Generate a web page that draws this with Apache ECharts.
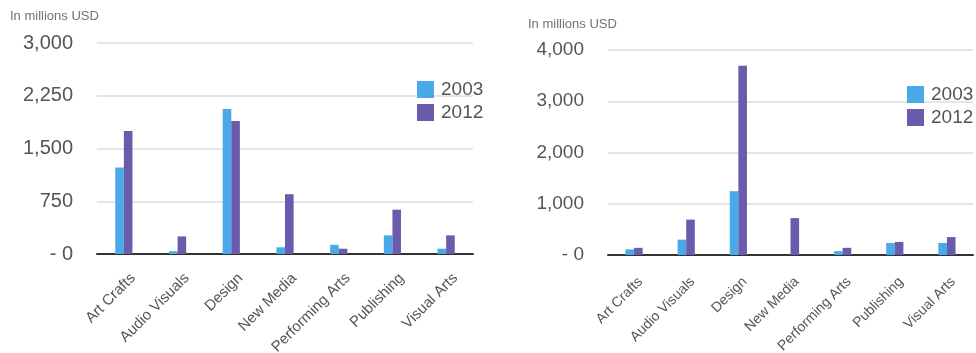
<!DOCTYPE html>
<html><head><meta charset="utf-8">
<script src="https://cdn.jsdelivr.net/npm/echarts@6/dist/echarts.min.js"></script>
<style>html,body{margin:0;padding:0;background:#fff}#c{width:976px;height:353px}</style>
</head><body><div id="c"></div>
<script>
var categories = ['Art Crafts','Audio Visuals','Design','New Media','Performing Arts','Publishing','Visual Arts'];
var seriesNames = ['2003','2012'];
var left2003 = [1230, 40, 2060, 95, 130, 265, 75];
var left2012 = [1750, 250, 1890, 850, 75, 630, 265];
var right2003 = [110, 300, 1245, 0, 75, 235, 235];
var right2012 = [140, 690, 3695, 720, 140, 255, 350];
var leftTicks = {min: 0, max: 3000, interval: 750};
var rightTicks = {min: 0, max: 4000, interval: 1000};
var unitLabel = 'In millions USD';

var FONT = '"Liberation Sans", Arial, sans-serif';
var BLUE = '#4aa9e8', PURPLE = '#6a5bad';
function fmt(v){ return v === 0 ? '- 0' : v.toLocaleString('en-US'); }
function xAx(i, fs, margin, shift){
  return {type:'category', gridIndex:i, data:categories,
    axisLine:{lineStyle:{color:'#333', width:2}}, axisTick:{show:false},
    axisLabel:{rotate:45, fontSize:fs, color:'#555', fontFamily:FONT, margin:margin, interval:0,
      padding:[0,-shift,0,0]}};
}
function yAx(i, t, fs){
  return {type:'value', gridIndex:i, min:t.min, max:t.max, interval:t.interval,
    axisLine:{show:false}, axisTick:{show:false},
    splitLine:{lineStyle:{color:'#dcdcdc', width:1.5}},
    axisLabel:{fontSize:fs, color:'#555', fontFamily:FONT, margin:24, formatter:fmt}};
}
function bar(name, xi, data, color){
  return {type:'bar', name:name, xAxisIndex:xi, yAxisIndex:xi, data:data, barWidth:8.6, barGap:'0%',
    itemStyle:{color:color}};
}
var chart = echarts.init(document.getElementById('c'));
chart.setOption({
  animation:false,
  textStyle:{fontFamily:FONT},
  grid:[{left:97, right:503, top:43, bottom:99, containLabel:false, outerBoundsMode:'none'},
        {left:608, right:3, top:50, bottom:98, containLabel:false, outerBoundsMode:'none'}],
  xAxis:[xAx(0, 15, 31, 13), xAx(1, 14, 31, 9)],
  yAxis:[yAx(0,leftTicks,20), yAx(1,rightTicks,19)],
  legend:[
    {left:412, top:75, orient:'vertical', itemWidth:17, itemHeight:17, itemGap:4, icon:'rect', data:seriesNames,
     textStyle:{fontSize:19, color:'#555', padding:[0,0,0,2]}},
    {left:902, top:80, orient:'vertical', itemWidth:17, itemHeight:17, itemGap:4, icon:'rect', data:seriesNames,
     textStyle:{fontSize:19, color:'#555', padding:[0,0,0,2]}}
  ],
  graphic:[
    {type:'text', left:10, top:10, style:{text:unitLabel, fontSize:13, fill:'#776f6f', fontFamily:FONT}},
    {type:'text', left:528, top:18, style:{text:unitLabel, fontSize:13, fill:'#776f6f', fontFamily:FONT}}
  ],
  series:[
    bar(seriesNames[0], 0, left2003, BLUE),
    bar(seriesNames[1], 0, left2012, PURPLE),
    bar(seriesNames[0], 1, right2003, BLUE),
    bar(seriesNames[1], 1, right2012, PURPLE)
  ]
});
</script></body></html>
